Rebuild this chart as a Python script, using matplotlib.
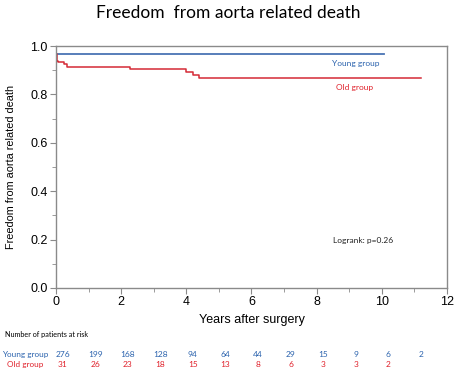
import numpy as np
import matplotlib
matplotlib.use("Agg")
import matplotlib.pyplot as plt
from matplotlib.ticker import MultipleLocator

# Kaplan-Meier step data
young_t = [0, 10.07]
young_s = [0.967, 0.967]
old_t = [0, 0.02, 0.04, 0.07, 0.25, 0.33, 2.27, 4.0, 4.2, 4.4, 11.2]
old_s = [0.967, 0.955, 0.94, 0.933, 0.925, 0.914, 0.905, 0.891, 0.881, 0.869, 0.869]

risk_years = list(range(12))
young_risk = [276, 199, 168, 128, 94, 64, 44, 29, 15, 9, 6, 2]
old_risk = [31, 26, 23, 18, 15, 13, 8, 6, 3, 3, 2]

blue = '#4a74b4'
red = '#d42a36'
blue_txt = '#2a62ad'
red_txt = '#e0202a'
label_font = 'Lato'
tick_font = 'Liberation Sans'

fig = plt.figure(figsize=(4.56, 3.71), dpi=100)
ax = fig.add_axes([0.123, 0.224, 0.857, 0.652])

ax.step(young_t, young_s, where='post', color=blue, lw=1.3)
ax.step(old_t, old_s, where='post', color=red, lw=1.1)

ax.set_xlim(0, 12)
ax.set_ylim(0, 1.0)
ax.xaxis.set_major_locator(MultipleLocator(2))
ax.xaxis.set_minor_locator(MultipleLocator(1))
ax.yaxis.set_major_locator(MultipleLocator(0.2))
ax.yaxis.set_minor_locator(MultipleLocator(0.1))
ax.yaxis.set_major_formatter(plt.FuncFormatter(lambda v, p: '%.1f' % v))
for s in ax.spines.values():
    s.set_color('#8a8a8a')
    s.set_linewidth(1.0)
ax.tick_params(which='both', direction='out', color='#8a8a8a', labelsize=9, pad=2)
ax.tick_params(which='major', length=4)
ax.tick_params(which='minor', length=3)
for lab in ax.get_xticklabels() + ax.get_yticklabels():
    lab.set_family(tick_font)

ax.set_xlabel('Years after surgery', family=tick_font, fontsize=9, labelpad=4)
ax.set_ylabel('Freedom from aorta related death', family=tick_font, fontsize=7.8, labelpad=10)
fig.text(0.5, 0.965, 'Freedom  from aorta related death', ha='center', va='center',
         family=label_font, fontsize=12.5)

ax.text(9.2, 0.926, 'Young group', color=blue_txt, family=label_font, fontsize=6, ha='center', va='center')
ax.text(9.15, 0.83, 'Old group', color=red_txt, family=label_font, fontsize=6, ha='center', va='center')
ax.text(8.5, 0.194, 'Logrank: p=0.26', color='#222222', family=label_font, fontsize=6, ha='left', va='center')

# number at risk table
fig.text(5 / 456, 1 - 335 / 371, 'Number of patients at risk', family=label_font, fontsize=5.2,
         ha='left', va='center')
fig.text(25 / 456, 1 - 354 / 371, 'Young group', color=blue_txt, family=label_font, fontsize=5.9, ha='center', va='center')
fig.text(25 / 456, 1 - 364 / 371, 'Old group', color=red_txt, family=label_font, fontsize=5.9, ha='center', va='center')
for yr, n in zip(risk_years, young_risk):
    ax.text(yr + 0.2, -0.274, str(n), color=blue_txt, family=label_font, fontsize=6,
            ha='center', va='center', clip_on=False)
for yr, n in zip(risk_years, old_risk):
    ax.text(yr + 0.2, -0.315, str(n), color=red_txt, family=label_font, fontsize=6,
            ha='center', va='center', clip_on=False)

fig.savefig('out.png', dpi=100)
